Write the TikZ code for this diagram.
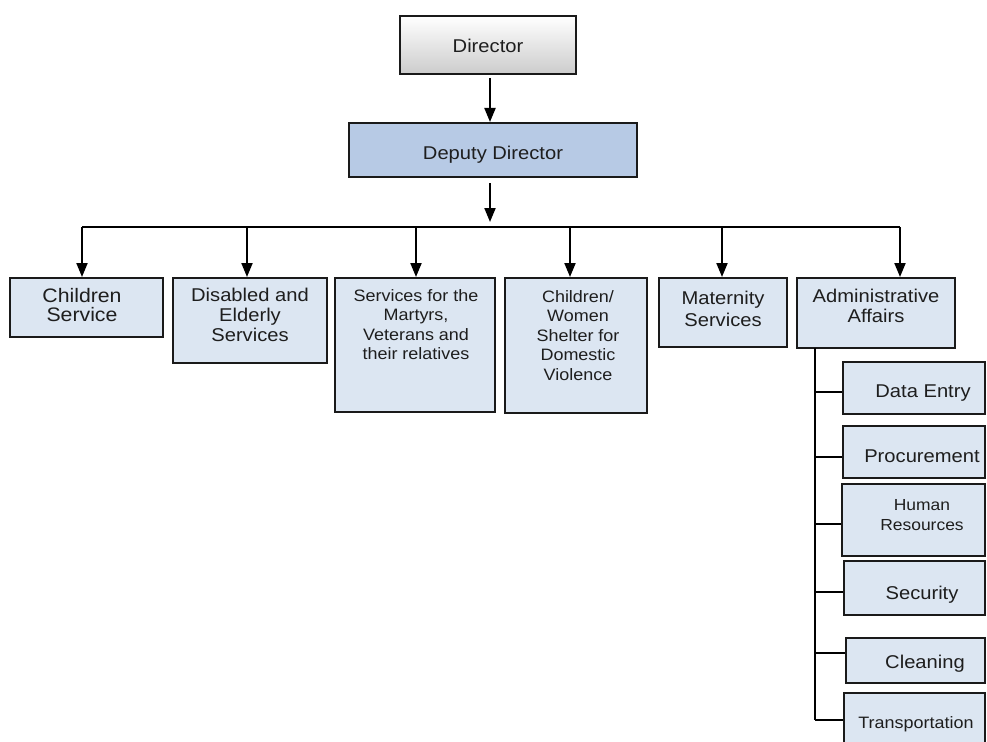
\documentclass[tikz,border=0pt]{standalone}
\usepackage{fontspec}
\setmainfont{Liberation Sans}[FakeStretch=1.09]
\usetikzlibrary{arrows.meta}
\definecolor{boxblue}{HTML}{DCE6F2}
\definecolor{deputyblue}{HTML}{B7CAE5}
\definecolor{edge}{HTML}{1A1A1A}
\definecolor{ink}{HTML}{1E1E1E}
\tikzset{
  unit/.style={draw=edge, line width=2pt, fill=boxblue, inner sep=0pt},
  txt/.style={inner sep=0pt, align=center, text=ink, font=\fontsize{18.5}{20}\selectfont},
  small/.style={txt, font=\fontsize{16.5}{19.5}\selectfont},
  arr/.style={line width=2pt, draw=black, -{Triangle[width=11pt,length=14pt]}},
  bus/.style={line width=2pt, draw=black},
  twig/.style={line width=1.5pt, draw=black},
}
\begin{document}
\begin{tikzpicture}[x=1pt, y=-1pt]
\useasboundingbox (0,0) rectangle (987,741);

% top of the chart
\node[unit, top color=white, bottom color=black!20, minimum width=176pt, minimum height=58pt] (director) at (488,45) {};
\node[txt, anchor=base] (directorT) at (488,53) {Director};
\node[unit, fill=deputyblue, minimum width=288pt, minimum height=54pt] (deputy) at (493,150) {};
\node[txt, anchor=base] (deputyT) at (493,159) {Deputy Director};

% departments
\node[unit, minimum width=153pt, minimum height=59pt] (children) at (86.5,307.5) {};
\node[txt, anchor=north, font=\fontsize{19.5}{19}\selectfont] (childrenT) at (82,288) {Children\\Service};
\node[unit, minimum width=154pt, minimum height=85pt] (disabled) at (250,320.5) {};
\node[txt, anchor=north] (disabledT) at (250,288) {Disabled and\\Elderly\\Services};
\node[unit, minimum width=160pt, minimum height=134pt] (martyrs) at (415,345) {};
\node[small, anchor=north] (martyrsT) at (416,289) {Services for the\\Martyrs,\\Veterans and\\their relatives};
\node[unit, minimum width=142pt, minimum height=135pt] (shelter) at (576,345.5) {};
\node[small, anchor=north] (shelterT) at (578,290) {Children/\\Women\\Shelter for\\Domestic\\Violence};
\node[unit, minimum width=128pt, minimum height=69pt] (maternity) at (723,312.5) {};
\node[txt, anchor=north, font=\fontsize{18.5}{22}\selectfont] (maternityT) at (723,291) {Maternity\\Services};
\node[unit, minimum width=158pt, minimum height=70pt] (admin) at (876,313) {};
\node[txt, anchor=north] (adminT) at (876,289) {Administrative\\Affairs};

% administrative sections
\node[unit, minimum width=142pt, minimum height=52pt] (dataentry) at (914,388) {};
\node[txt, anchor=base] (dataentryT) at (923,397) {Data Entry};
\node[unit, minimum width=142pt, minimum height=52pt] (procurement) at (914,452) {};
\node[txt, anchor=base] (procurementT) at (922,462) {Procurement};
\node[unit, minimum width=143pt, minimum height=72pt] (hr) at (913.5,520) {};
\node[small, anchor=north, font=\fontsize{16}{20}\selectfont] (hrT) at (922,499) {Human\\Resources};
\node[unit, minimum width=141pt, minimum height=54pt] (security) at (914.5,588) {};
\node[txt, anchor=base] (securityT) at (922,599) {Security};
\node[unit, minimum width=139pt, minimum height=45pt] (cleaning) at (915.5,660.5) {};
\node[txt, anchor=base] (cleaningT) at (925,668) {Cleaning};
\node[unit, minimum width=141pt, minimum height=67pt] (transport) at (914.5,726.5) {};
\node[small, anchor=base] (transportT) at (916,728) {Transportation};

% director to deputy
\draw[arr] ([xshift=2pt,yshift=-3pt]director.south) -- ([xshift=2pt]director.south |- deputy.north);

% deputy to the distribution bar
\coordinate (busL) at (82,227);
\coordinate (busR) at (900,227);
\draw[arr] ([xshift=-3pt,yshift=-5pt]deputy.south) -- ([xshift=-3pt,yshift=5pt]deputy.south |- busL);
\draw[bus] (busL) -- (busR);

% drops to each department
\coordinate (b1) at (82,227);
\coordinate (b2) at (247,227);
\coordinate (b3) at (416,227);
\coordinate (b4) at (570,227);
\coordinate (b5) at (722,227);
\coordinate (b6) at (900,227);
\draw[arr] (b1) -- (b1 |- children.north);
\draw[arr] (b2) -- (b2 |- disabled.north);
\draw[arr] (b3) -- (b3 |- martyrs.north);
\draw[arr] (b4) -- (b4 |- shelter.north);
\draw[arr] (b5) -- (b5 |- maternity.north);
\draw[arr] (b6) -- (b6 |- admin.north);

% administrative trunk and branches
\coordinate (trunkTop) at (815,348);
\coordinate (j1) at (815,392);
\coordinate (j2) at (815,457);
\coordinate (j3) at (815,524);
\coordinate (j4) at (815,592);
\coordinate (j5) at (815,653);
\coordinate (j6) at (815,720);
\draw[twig] (trunkTop) -- (j6);
\draw[twig] (j1) -- (j1 -| dataentry.west);
\draw[twig] (j2) -- (j2 -| procurement.west);
\draw[twig] (j3) -- (j3 -| hr.west);
\draw[twig] (j4) -- (j4 -| security.west);
\draw[twig] (j5) -- (j5 -| cleaning.west);
\draw[twig] (j6) -- (j6 -| transport.west);
\end{tikzpicture}
\end{document}
